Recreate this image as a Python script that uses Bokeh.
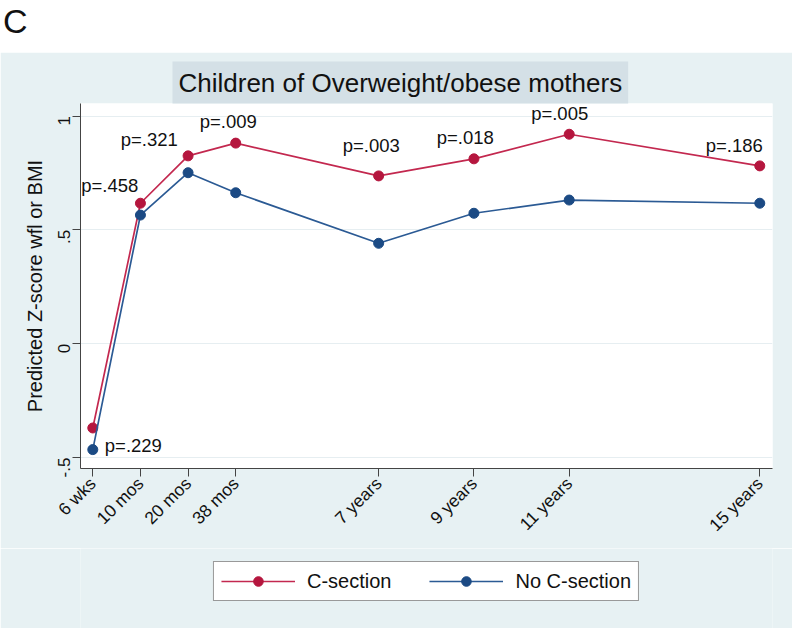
import math
from bokeh.plotting import figure
from bokeh.models import Range1d, FixedTicker, Legend, LegendItem, Div
from bokeh.layouts import column
from bokeh.embed import file_html
from bokeh.resources import INLINE
from bokeh.core.properties import value

# ---------------- data ----------------
x_pos = [1, 2, 3, 4, 7, 9, 11, 15]
tick_labels = ["6 wks", "10 mos", "20 mos", "38 mos", "7 years", "9 years", "11 years", "15 years"]
csection = [-0.370, 0.617, 0.825, 0.881, 0.737, 0.812, 0.920, 0.781]
no_csection = [-0.465, 0.565, 0.751, 0.663, 0.441, 0.573, 0.631, 0.617]

y_ticks = [-0.5, 0, 0.5, 1]
y_tick_labels = ["-.5", "0", ".5", "1"]

# p-value annotations (data coordinates)
p_labels = ["p=.458", "p=.321", "p=.009", "p=.003", "p=.018", "p=.005", "p=.186"]
p_x = [1.357, 2.186, 3.844, 6.846, 8.819, 10.80, 14.465]
p_y = [0.695, 0.897, 0.974, 0.871, 0.904, 1.010, 0.871]
p_first_label = ["p=.229"]
p_first_x = [1.252]
p_first_y = [-0.449]

FONT = "Liberation Sans"
RED = "#b5163e"
RED_LINE = "#c3284f"
BLUE = "#1b4a84"
BLUE_LINE = "#2b5a94"
BG = "#e7f1f3"
TXT = "#111111"
NAN = float("nan")

# ---------------- top strip with panel letter ----------------
top = Div(text="C", width=792, height=52, margin=(0, 0, 0, 0),
          styles={"font-family": FONT, "font-size": "34px", "color": TXT,
                  "line-height": "34px", "padding-top": "4px", "padding-left": "3px"})

# ---------------- main chart ----------------
p = figure(width=792, height=496,
           x_range=Range1d(0.742, 15.267), y_range=Range1d(-0.548, 1.055),
           output_backend="svg", toolbar_location=None,
           title="Children of Overweight/obese mothers",
           min_border_left=80, min_border_right=20, min_border_top=51, min_border_bottom=80,
           background_fill_color="white", border_fill_color=BG, outline_line_color=None,
           margin=(0, 0, 0, 0))

p.title.align = "left"
p.title.offset = 92
p.title.text_font = FONT
p.title.text_font_size = "26px"
p.title.text_font_style = "normal"
p.title.text_color = TXT
p.title.background_fill_color = "#d4e0e6"
p.title.padding = 6
p.title.standoff = 0

# axes
p.xaxis.ticker = FixedTicker(ticks=x_pos)
p.xaxis.major_label_overrides = dict(zip(x_pos, tick_labels))
p.xaxis.major_label_orientation = math.pi / 4
p.yaxis.ticker = FixedTicker(ticks=y_ticks)
p.yaxis.major_label_overrides = dict(zip(y_ticks, y_tick_labels))
p.yaxis.major_label_orientation = math.pi / 2
p.yaxis.axis_label = "Predicted Z-score wfl or BMI"
p.yaxis.axis_label_text_font = FONT
p.yaxis.axis_label_text_font_size = "20px"
p.yaxis.axis_label_text_font_style = "normal"
p.yaxis.axis_label_text_color = TXT
p.yaxis.axis_label_standoff = 4
for ax in (p.xaxis, p.yaxis):
    ax.minor_tick_line_color = None
    ax.major_tick_in = 0
    ax.major_tick_out = 8
    ax.axis_line_color = "#444444"
    ax.major_tick_line_color = "#444444"
    ax.major_label_text_font = FONT
    ax.major_label_text_color = TXT
p.xaxis.major_label_standoff = 4
p.yaxis.major_label_standoff = 8
p.xaxis.major_label_text_font_size = "17.5px"
p.yaxis.major_label_text_font_size = "17px"

p.xgrid.grid_line_color = None
p.ygrid.grid_line_color = "#e6eef1"
p.ygrid.grid_line_width = 1

# series
p.line(x_pos, csection, line_color=RED_LINE, line_width=1.7)
p.scatter(x_pos, csection, size=10, fill_color=RED, line_color=RED)
p.line(x_pos, no_csection, line_color=BLUE_LINE, line_width=1.7)
p.scatter(x_pos, no_csection, size=10, fill_color=BLUE, line_color=BLUE)

# p-value labels
p.text(x=p_x, y=p_y, text=p_labels, text_align="center", text_baseline="middle",
       text_font=value(FONT), text_font_size="18.5px", text_color=TXT)
p.text(x=p_first_x, y=p_first_y, text=p_first_label, text_align="left", text_baseline="middle",
       text_font=value(FONT), text_font_size="18.5px", text_color=TXT)

# ---------------- legend strip ----------------
lf = figure(width=792, height=80, x_range=Range1d(0, 1), y_range=Range1d(0, 1),
            output_backend="svg", toolbar_location=None, title=None,
            x_axis_location=None, y_axis_location=None, min_border=0,
            background_fill_color=BG, border_fill_color=BG, outline_line_color=None,
            margin=(0, 0, 0, 0))
lf.grid.visible = False
# legend-key renderers (no visible data of their own)
lr1 = lf.line(x=[NAN], y=[NAN], line_color=RED_LINE, line_width=1.7)
ls1 = lf.scatter(x=[NAN], y=[NAN], size=10, fill_color=RED, line_color=RED)
lr2 = lf.line(x=[NAN], y=[NAN], line_color=BLUE_LINE, line_width=1.7)
ls2 = lf.scatter(x=[NAN], y=[NAN], size=10, fill_color=BLUE, line_color=BLUE)

legend = Legend(items=[LegendItem(label="C-section", renderers=[lr1, ls1]),
                       LegendItem(label="No C-section", renderers=[lr2, ls2])],
                orientation="horizontal", location="top_center",
                glyph_width=74, glyph_height=24, label_standoff=12, spacing=38,
                padding=7, margin=13,
                label_text_font=FONT, label_text_font_size="20px", label_text_color=TXT,
                border_line_color="#333333", border_line_width=1,
                background_fill_color="white", background_fill_alpha=1.0)
lf.add_layout(legend)

layout = column(top, p, lf, spacing=0)
open("out.html", "w").write(file_html(layout, INLINE))
